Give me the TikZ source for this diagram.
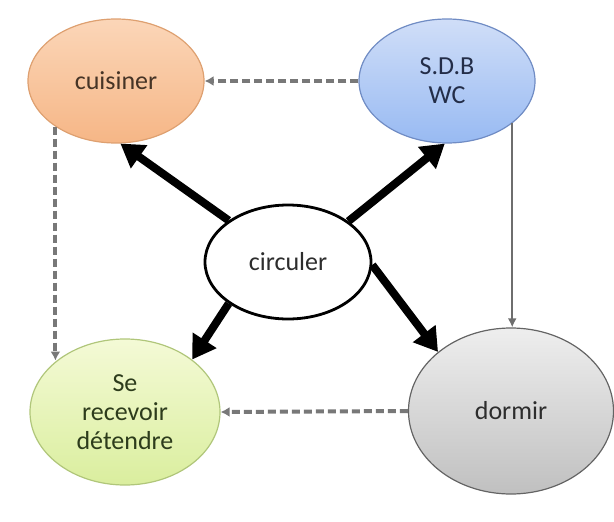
\documentclass[tikz,border=0pt]{standalone}
\usepackage{fontspec}
\setmainfont{Carlito}
\usetikzlibrary{shapes.geometric,arrows.meta}
\definecolor{orTop}{RGB}{251,214,184}
\definecolor{orBot}{RGB}{246,182,134}
\definecolor{orLine}{RGB}{222,160,112}
\definecolor{orText}{RGB}{70,52,38}
\definecolor{blTop}{RGB}{208,222,248}
\definecolor{blBot}{RGB}{152,186,242}
\definecolor{blLine}{RGB}{112,140,196}
\definecolor{blText}{RGB}{35,45,72}
\definecolor{grTop}{RGB}{244,250,214}
\definecolor{grBot}{RGB}{218,238,158}
\definecolor{grLine}{RGB}{176,198,122}
\definecolor{grText}{RGB}{45,60,28}
\definecolor{gyTop}{RGB}{238,238,238}
\definecolor{gyBot}{RGB}{192,192,192}
\definecolor{gyLine}{RGB}{100,100,100}
\definecolor{gyText}{RGB}{45,45,45}
\definecolor{dashCol}{RGB}{120,120,120}
\definecolor{thinCol}{RGB}{110,110,110}
\tikzset{
  bubble/.style={ellipse, inner sep=0pt, align=center, line width=1.2pt,
    font=\fontsize{26}{29}\selectfont},
  mainarrow/.style={line width=8pt, black, -{Triangle[length=23pt,width=27pt]}},
  dasharrow/.style={line width=4pt, dashCol, dash pattern=on 8pt off 4pt,
    -{Latex[length=9pt,width=10pt]}},
  thinarrow/.style={line width=2.2pt, thinCol, -{Latex[length=9pt,width=9pt]}}
}
\begin{document}
\begin{tikzpicture}[x=1pt,y=1pt]
\useasboundingbox (0,0) rectangle (614,-522);
\node[bubble, minimum width=176pt, minimum height=124pt, draw=orLine,
  top color=orTop, bottom color=orBot, text=orText] (cuis) at (116,-81) {cuisiner};
\node[bubble, minimum width=176pt, minimum height=124pt, draw=blLine,
  top color=blTop, bottom color=blBot, text=blText] (sdb) at (447,-81) {S.D.B\\WC};
\node[bubble, minimum width=166pt, minimum height=114pt, draw=black,
  line width=2.8pt, fill=white, text=gyText] (circ) at (288,-262) {circuler};
\node[bubble, minimum width=190pt, minimum height=146pt, draw=grLine,
  top color=grTop, bottom color=grBot, text=grText] (se) at (125,-412) {Se\\recevoir\\détendre};
\node[bubble, minimum width=205pt, minimum height=166pt, draw=gyLine,
  top color=gyTop, bottom color=gyBot, text=gyText] (dorm) at (511,-411) {dormir};
% thick arrows
\draw[mainarrow] (circ.145) -- (cuis.-86);
\draw[mainarrow] (circ.34) -- (sdb.-92);
\draw[mainarrow] (circ.215) -- (se.38);
\draw[mainarrow] (circ.-2) -- (dorm.141);
% dashed arrows
\draw[dasharrow] (sdb.west) -- (cuis.east);
\draw[dasharrow] (dorm.west) -- (se.east);
\draw[dasharrow] (cuis.217) -- (cuis.217 |- se.143);
% thin arrow
\draw[thinarrow] (sdb.-33) -- (sdb.-33 |- dorm.north);
\end{tikzpicture}
\end{document}
